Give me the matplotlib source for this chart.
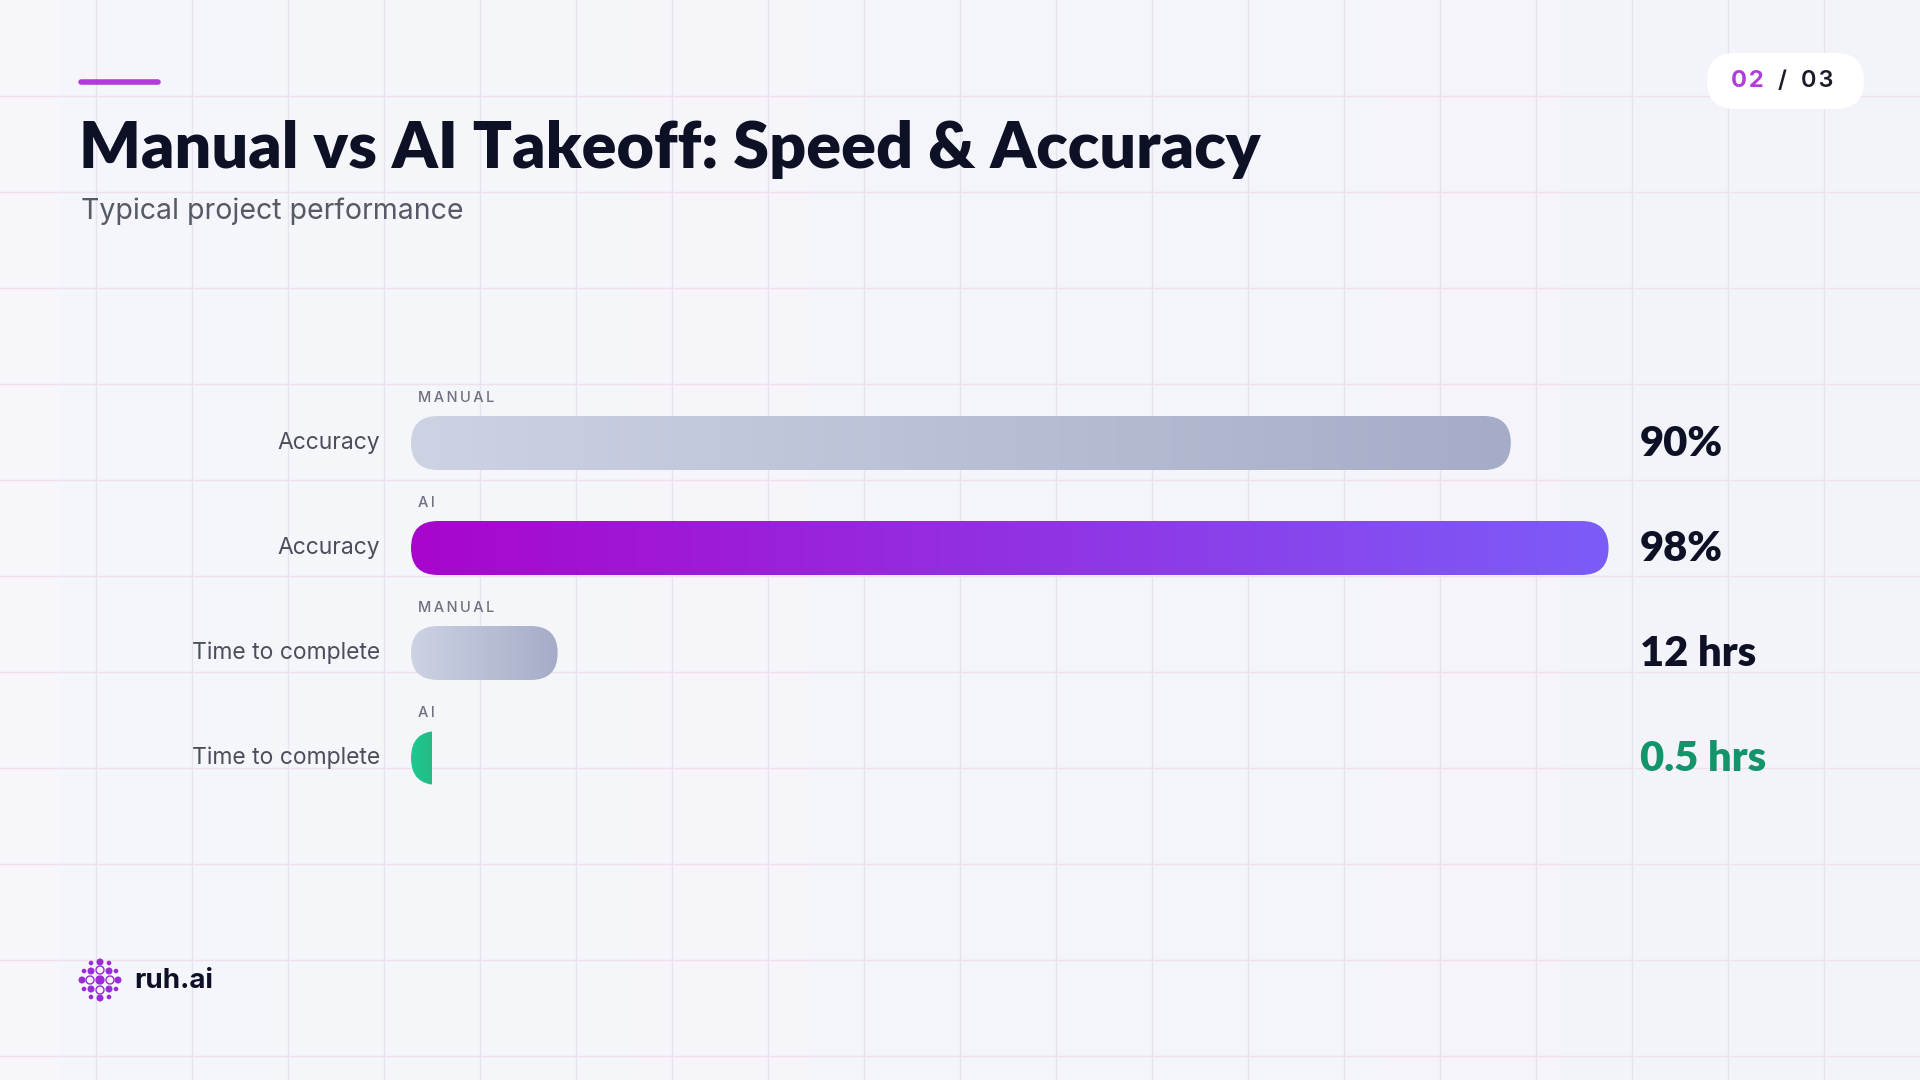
import matplotlib
matplotlib.use("Agg")
import matplotlib.pyplot as plt
import numpy as np
from matplotlib.patches import FancyBboxPatch, Circle

plt.rcParams['font.family'] = ['Inter', 'DejaVu Sans']

# ---- data ----
row_labels = ["Accuracy", "Accuracy", "Time to complete", "Time to complete"]
series_tags = ["MANUAL", "AI", "MANUAL", "AI"]
values = [90, 98, 12, 0.5]
value_labels = ["90%", "98%", "12 hrs", "0.5 hrs"]
title = "Manual vs AI Takeoff: Speed & Accuracy"
subtitle = "Typical project performance"

W, H = 1920, 1080
fig = plt.figure(figsize=(19.2, 10.8), dpi=100)
bg = fig.add_axes([0, 0, 1, 1])
bg.set_xlim(0, W); bg.set_ylim(H, 0); bg.axis('off')
g = np.linspace(0, 1, 256)
grad = np.outer(np.ones(256), g)
bg.imshow(np.dstack([0.965 - 0.01*grad, 0.968 - 0.01*grad, 0.985 - 0.005*grad]),
          extent=[0, W, H, 0], aspect='auto', zorder=0)
for x in range(96, W, 96):
    bg.axvline(x, color='#E7E3EE', lw=1, zorder=1)
for y in range(96, H, 96):
    bg.axhline(y, color='#EEE0EE', lw=1, zorder=1)

def spaced(s, sep="\u200a"):
    return sep.join(s)

# header
bg.plot([81, 158], [82, 82], color='#B23BDB', lw=4, solid_capstyle='round', zorder=3)
bg.text(79, 168, title, fontsize=46.5, fontweight='heavy', color='#0E1126', va='baseline',
        family=['Lato', 'DejaVu Sans'], zorder=3)
bg.text(81, 219, subtitle, fontsize=20.5, color='#555A66', va='baseline', zorder=3)

# page pill
bg.add_patch(FancyBboxPatch((1707, 53), 157, 56, boxstyle="round,pad=0,rounding_size=28",
                            fc='white', ec='none', zorder=3))
bg.text(1731, 81, spaced("02"), fontsize=17, fontweight='bold', color='#B23BDB', va='center', zorder=4)
bg.text(1778, 81, "/", fontsize=17, fontweight='semibold', color='#1A1C2A', va='center', zorder=4)
bg.text(1801, 81, spaced("03"), fontsize=17, fontweight='semibold', color='#1A1C2A', va='center', zorder=4)

# logo
cx, cy = 100, 980
for dx, dy, r, fill in [(0, 0, 4, True), (-10, 0, 4, False), (10, 0, 4, False),
                        (0, -10, 4, False), (0, 10, 4, False),
                        (-18, 0, 2.8, True), (18, 0, 2.8, True), (0, -18, 2.8, True), (0, 18, 2.8, True),
                        (-9, -9, 2.8, True), (9, -9, 2.8, True), (-9, 9, 2.8, True), (9, 9, 2.8, True),
                        (-16, -9, 1.6, True), (16, -9, 1.6, True), (-16, 9, 1.6, True), (16, 9, 1.6, True),
                        (-9, -17, 1.6, True), (9, -17, 1.6, True), (-9, 17, 1.6, True), (9, 17, 1.6, True)]:
    bg.add_patch(Circle((cx + dx, cy + dy), r, fc='#9B2BD6' if fill else 'none',
                        ec='#9B2BD6', lw=1.0, zorder=3))
bg.text(134, 981, "ruh.ai", fontsize=20, fontweight='bold', color='#0E1126', va='center', zorder=3)

# ---- bars ----
x0, x1 = 411, 1633           # pixel extent of 0..100
row_px = 105
top_px = 443 - row_px / 2
n = len(values)
ax = fig.add_axes([x0 / W, 1 - (top_px + n * row_px) / H, (x1 - x0) / W, n * row_px / H])
ax.set_xlim(0, 100); ax.set_ylim(n - 0.5, -0.5); ax.axis('off')
ax.patch.set_alpha(0)
pxu = (x1 - x0) / 100.0
bar_h = 54 / row_px
rx = 27 / pxu
asp = (27 / row_px) / rx

grads = {
    0: ('#CDD3E3', '#A5ACC8'),
    1: ('#A806CC', '#7C5CF8'),
    2: ('#CDD3E3', '#A5ACC8'),
    3: ('#1CCB92', '#27B983'),
}
def hex2rgb(h):
    return np.array([int(h[i:i+2], 16) / 255 for i in (1, 3, 5)])

for i, v in enumerate(values):
    wv = max(v, 2 * rx)
    draw_w = wv if v >= 2 * rx else 21 / pxu
    patch = FancyBboxPatch((0, i - bar_h / 2), wv, bar_h,
                           boxstyle=f"round,pad=0,rounding_size={rx}", mutation_aspect=asp,
                           fc='none', ec='none', transform=ax.transData)
    ax.add_patch(patch)
    c0, c1 = hex2rgb(grads[i][0]), hex2rgb(grads[i][1])
    img = c0[None, :] + (c1 - c0)[None, :] * np.linspace(0, 1, 256)[:, None]
    im = ax.imshow(img[None, :, :], extent=[0, draw_w, i + bar_h / 2, i - bar_h / 2],
                   aspect='auto', zorder=3)
    im.set_clip_path(patch)

    ax.text(0.55, i - 0.43, spaced(series_tags[i], "\u2009"), fontsize=10.5, color='#6E7280',
            va='center', fontweight='medium', zorder=5)
    bg.text(380, 443 + i * row_px, row_labels[i], fontsize=16.5, color='#4B4F5C',
            ha='right', va='center', zorder=5)
    col = '#14946A' if i == 3 else '#0E1126'
    bg.text(1640, 444 + i * row_px, value_labels[i], fontsize=30, fontweight='heavy',
            color=col, va='center', family=['Lato', 'DejaVu Sans'], zorder=5)

fig.savefig("out.png", dpi=100)
